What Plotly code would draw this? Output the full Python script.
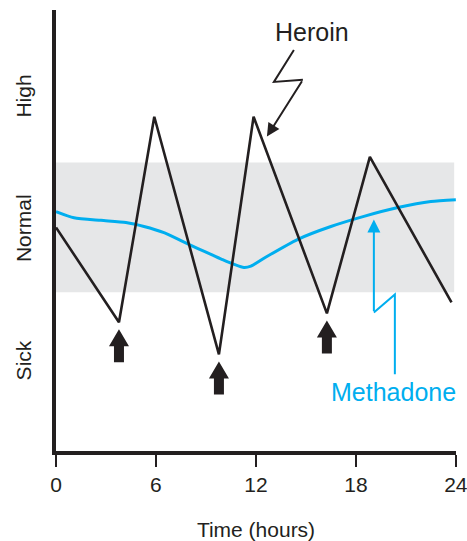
import plotly.graph_objects as go

# ---- data ----
heroin_hours = [0, 3.78, 5.9, 9.78, 11.86, 16.26, 18.84, 23.74]
heroin_level = [50.7, 29.2, 75.8, 21.9, 75.8, 31.2, 66.7, 33.7]

methadone_hours = [0, 1.08, 2.7, 4.2, 5.28, 6.48, 7.5, 8.52, 9.3, 10.0, 10.7,
                   11.28, 11.7, 12.66, 14.52, 16.5, 18.48, 20.52, 22.5, 24]
methadone_level = [54.3, 52.9, 52.3, 51.8, 50.9, 49.5, 47.7, 45.9, 44.6, 43.4, 42.3,
                   41.6, 41.9, 44.1, 48.0, 50.9, 53.2, 55.2, 56.6, 57.0]

dose_index = [1, 3, 5]          # heroin troughs where a dose is taken
normal_band = [36.0, 65.4]      # normal range
band_end_hour = 23.9

x_ticks = [0, 6, 12, 18, 24]
y_tick_vals = [19.8, 49.8, 79.8]
y_tick_text = ["Sick", "Normal", "High"]

BLACK = "#231F20"
BLUE = "#00AEEF"
GRAY = "#E6E7E8"
FONT = "Liberation Sans, Arial, sans-serif"

fig = go.Figure()

fig.add_trace(go.Scatter(x=methadone_hours, y=methadone_level, mode="lines",
                         line=dict(color=BLUE, width=3, shape="spline", smoothing=0.6),
                         hoverinfo="skip", showlegend=False))
fig.add_trace(go.Scatter(x=heroin_hours, y=heroin_level, mode="lines",
                         line=dict(color=BLACK, width=2.6),
                         hoverinfo="skip", showlegend=False))

shapes = [dict(type="rect", xref="x", yref="y", x0=0, x1=band_end_hour,
               y0=normal_band[0], y1=normal_band[1], fillcolor=GRAY,
               line=dict(width=0), layer="below")]

# dose arrows (pixel-sized, anchored at each trough)
arrow_path = "M 0 -7 L 10 -24 L 5 -24 L 5 -40 L -5 -40 L -5 -24 L -10 -24 Z"
for i in dose_index:
    shapes.append(dict(type="path", xref="x", yref="y",
                       xsizemode="pixel", ysizemode="pixel",
                       xanchor=heroin_hours[i], yanchor=heroin_level[i],
                       path=arrow_path, fillcolor=BLACK, line=dict(width=0)))

# pointer zigzags
shapes.append(dict(type="path", xref="x", yref="y",
                   path="M 14.28 90.95 L 13.08 83.7 L 14.82 84.2",
                   line=dict(color=BLACK, width=2)))
shapes.append(dict(type="path", xref="x", yref="y",
                   path="M 20.34 17.4 L 20.34 35.5 L 19.08 31.4",
                   line=dict(color=BLUE, width=2)))

annotations = [
    dict(x=15.35, y=95.0, xref="x", yref="y", text="Heroin", showarrow=False,
         font=dict(family=FONT, size=25, color=BLACK), xanchor="center", yanchor="middle"),
    dict(x=20.28, y=13.35, xref="x", yref="y", text="Methadone", showarrow=False,
         font=dict(family=FONT, size=25, color=BLUE), xanchor="center", yanchor="middle"),
    dict(x=12.66, y=71.3, xref="x", yref="y", ax=14.82, ay=84.2, axref="x", ayref="y",
         text="", showarrow=True, arrowhead=2, arrowsize=1.3, arrowwidth=2,
         arrowcolor=BLACK, standoff=0),
    dict(x=19.08, y=52.5, xref="x", yref="y", ax=19.08, ay=31.4, axref="x", ayref="y",
         text="", showarrow=True, arrowhead=2, arrowsize=1.3, arrowwidth=2,
         arrowcolor=BLUE, standoff=0),
]

fig.update_layout(
    width=467, height=541,
    margin=dict(l=56, r=11, t=10, b=90),
    paper_bgcolor="white", plot_bgcolor="white",
    font=dict(family=FONT, size=21, color=BLACK),
    shapes=shapes, annotations=annotations,
    showlegend=False,
    xaxis=dict(range=[0, 24.01], tickvals=x_ticks, ticktext=[str(v) for v in x_ticks],
               showline=True, linewidth=4, linecolor=BLACK,
               ticks="outside", ticklen=12, tickwidth=2, tickcolor=BLACK,
               ticklabelstandoff=0, ticklabeloverflow="allow", automargin=False,
               showgrid=False, zeroline=False, fixedrange=True,
               title=dict(text="Time (hours)", standoff=30,
                          font=dict(family=FONT, size=21, color=BLACK)),
               tickfont=dict(family=FONT, size=21, color=BLACK)),
    yaxis=dict(range=[0, 100], tickvals=y_tick_vals, ticktext=y_tick_text,
               tickangle=-90, showline=True, linewidth=4, linecolor=BLACK,
               ticks="", ticklabelstandoff=13, showgrid=False, zeroline=False,
               automargin=False,
               fixedrange=True, tickfont=dict(family=FONT, size=21, color=BLACK)),
)

fig.write_html("out.html", config={"displayModeBar": False},
               post_script="document.body.style.margin='0';document.body.style.padding='0';"
                           "document.documentElement.style.overflow='hidden';")
